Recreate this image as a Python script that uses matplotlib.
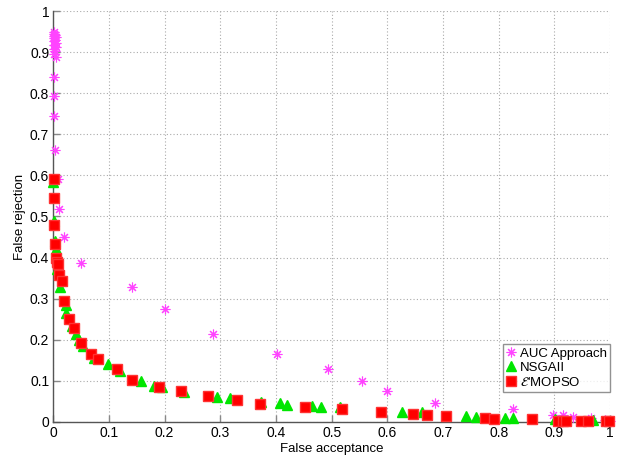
import matplotlib
matplotlib.use("Agg")
import matplotlib.pyplot as plt

# AUC Approach
auc_x = [0.001, 0.002, 0.003, 0.001, 0.004, 0.002, 0.003, 0.001, 0.005, 0.002, 0.004, 0.001, 0.003, 0.002, 0.004,
         0.002, 0.001, 0.002, 0.003, 0.008, 0.010, 0.019, 0.050, 0.141, 0.200, 0.286, 0.401, 0.494, 0.554,
         0.600, 0.685, 0.826, 0.897, 0.915, 0.934, 0.966, 0.990, 1.000]
auc_y = [0.948, 0.945, 0.942, 0.940, 0.937, 0.934, 0.930, 0.926, 0.922, 0.918, 0.913, 0.908, 0.903, 0.895, 0.888,
         0.839, 0.793, 0.744, 0.662, 0.592, 0.517, 0.450, 0.386, 0.329, 0.275, 0.214, 0.166, 0.129, 0.100,
         0.075, 0.047, 0.030, 0.017, 0.0155, 0.0115, 0.009, 0.004, 0.001]

# NSGAII
ns_x = [0.000, 0.001, 0.003, 0.004, 0.006, 0.012, 0.022, 0.023, 0.034, 0.041, 0.047, 0.054, 0.074, 0.099,
        0.120, 0.158, 0.180, 0.195, 0.234, 0.294, 0.317, 0.373, 0.407, 0.419, 0.465, 0.480, 0.515, 0.626,
        0.663, 0.741, 0.759, 0.811, 0.826, 0.901, 0.970]
ns_y = [0.584, 0.490, 0.440, 0.420, 0.372, 0.329, 0.284, 0.264, 0.234, 0.214, 0.200, 0.184, 0.155, 0.141,
        0.124, 0.099, 0.087, 0.084, 0.072, 0.0605, 0.057, 0.048, 0.045, 0.042, 0.039, 0.0356, 0.036, 0.025,
        0.0235, 0.0135, 0.0125, 0.009, 0.009, 0.006, 0.004]

# E'MOPSO
mo_x = [0.001, 0.001, 0.002, 0.003, 0.004, 0.006, 0.008, 0.011, 0.015, 0.019, 0.028, 0.038, 0.049, 0.068,
        0.080, 0.115, 0.142, 0.190, 0.229, 0.277, 0.330, 0.371, 0.452, 0.518, 0.588, 0.646, 0.672, 0.705,
        0.775, 0.792, 0.860, 0.907, 0.915, 0.921, 0.948, 0.961, 0.992, 0.998]
mo_y = [0.591, 0.545, 0.478, 0.434, 0.400, 0.390, 0.383, 0.358, 0.344, 0.295, 0.250, 0.229, 0.191, 0.164,
        0.152, 0.128, 0.103, 0.084, 0.074, 0.063, 0.0525, 0.044, 0.037, 0.030, 0.0235, 0.020, 0.017, 0.014,
        0.0098, 0.0075, 0.006, 0.0025, 0.0025, 0.0025, 0.002, 0.002, 0.001, 0.001]

x_ticks = [0, 0.1, 0.2, 0.3, 0.4, 0.5, 0.6, 0.7, 0.8, 0.9, 1]
y_ticks = [0, 0.1, 0.2, 0.3, 0.4, 0.5, 0.6, 0.7, 0.8, 0.9, 1]
tick_labels = ['0', '0.1', '0.2', '0.3', '0.4', '0.5', '0.6', '0.7', '0.8', '0.9', '1']

plt.rcParams['font.family'] = ['Liberation Sans', 'DejaVu Sans']
fig = plt.figure(figsize=(6.27, 4.61), dpi=100)
ax = fig.add_axes([0.085, 0.085, 0.888, 0.891])

ax.plot(auc_x, auc_y, linestyle='none', marker=(8, 2, 0), markersize=7, markeredgewidth=0.8,
        color='#ff44ff', label='AUC Approach', clip_on=False, zorder=3)
ax.plot(ns_x, ns_y, linestyle='none', marker='^', markersize=7, color='#00e600', markeredgecolor='#00e600',
        label='NSGAII', clip_on=False, zorder=4)
ax.plot(mo_x, mo_y, linestyle='none', marker='s', markersize=6.5, color='#ff0000', markeredgecolor='#ff3333',
        label="$\\mathcal{E}$'MOPSO", clip_on=False, zorder=5)

ax.set_xlim(0, 1)
ax.set_ylim(0, 1)
ax.set_xticks(x_ticks)
ax.set_yticks(y_ticks)
ax.set_xticklabels(tick_labels)
ax.set_yticklabels(tick_labels)
ax.grid(True, linestyle=(0, (1, 2)), color='#aaaaaa', linewidth=0.8)
ax.set_axisbelow(True)
for s in ['top', 'right']:
    ax.spines[s].set_visible(False)
for s in ['left', 'bottom']:
    ax.spines[s].set_color('#555555')
    ax.spines[s].set_linewidth(1.0)
ax.tick_params(direction='in', length=5, width=1, color='#888888', labelsize=10, pad=3)
ax.set_xlabel('False acceptance', fontsize=9.5, labelpad=2)
ax.set_ylabel('False rejection', fontsize=9.5, labelpad=3)

leg = ax.legend(loc='lower right', bbox_to_anchor=(1.0, 0.072), fontsize=9.5, frameon=True, fancybox=False,
                edgecolor='#777777', handlelength=0.6, handletextpad=0.4, borderpad=0.25, labelspacing=0.15,
                borderaxespad=0.0)
leg.get_frame().set_linewidth(1.0)

fig.savefig('out.png', dpi=100)
